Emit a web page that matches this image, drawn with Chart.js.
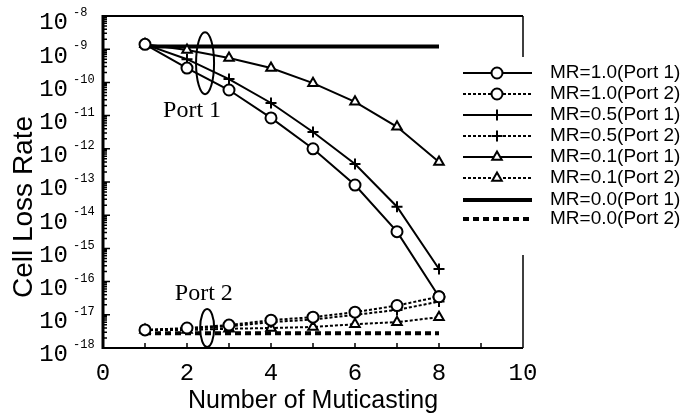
<!DOCTYPE html>
<html>
<head>
<meta charset="utf-8">
<script src="https://cdn.jsdelivr.net/npm/chart.js@4.4.1/dist/chart.umd.min.js"></script>
<style>
  html, body { margin: 0; padding: 0; background: #fff; }
  #lossChart { display: block; }
</style>
</head>
<body>
<canvas id="lossChart" width="691" height="415"></canvas>
<script>
// マルチキャスト数ごとのセル損失率
var multicastCounts = [1, 2, 3, 4, 5, 6, 7, 8];

var mr10Port1 = [1.4e-9, 2.7e-10, 5.9e-11, 8.5e-12, 1.0e-12, 8.1e-14, 3.2e-15, 3.5e-17];
var mr10Port2 = [3.5e-18, 4.0e-18, 4.9e-18, 6.9e-18, 8.5e-18, 1.2e-17, 1.9e-17, 3.5e-17];
var mr05Port1 = [1.4e-9, 5.0e-10, 1.26e-10, 2.4e-11, 3.2e-12, 3.5e-13, 1.8e-14, 2.4e-16];
var mr05Port2 = [3.5e-18, 3.8e-18, 4.5e-18, 6.0e-18, 7.2e-18, 1.0e-17, 1.4e-17, 2.5e-17];
var mr01Port1 = [1.4e-9, 9.5e-10, 5.4e-10, 2.7e-10, 9.5e-11, 2.6e-11, 4.6e-12, 4.0e-13];
var mr01Port2 = [3.5e-18, 3.5e-18, 3.8e-18, 4.0e-18, 4.3e-18, 5.2e-18, 6.0e-18, 8.5e-18];
var mr00Port1 = [1.2e-9, 1.2e-9, 1.2e-9, 1.2e-9, 1.2e-9, 1.2e-9, 1.2e-9, 1.2e-9];
var mr00Port2 = [2.8e-18, 2.8e-18, 2.8e-18, 2.8e-18, 2.8e-18, 2.8e-18, 2.8e-18, 2.8e-18];

var seriesLabels = [
    'MR=1.0(Port 1)', 'MR=1.0(Port 2)',
    'MR=0.5(Port 1)', 'MR=0.5(Port 2)',
    'MR=0.1(Port 1)', 'MR=0.1(Port 2)',
    'MR=0.0(Port 1)', 'MR=0.0(Port 2)'
];

var xTickValues = [0, 2, 4, 6, 8, 10];
var yExponents = [-8, -9, -10, -11, -12, -13, -14, -15, -16, -17, -18];

function toPoints(values) {
    return values.map(function (v, i) { return { x: multicastCounts[i], y: v }; });
}

function makeSeries(label, values, marker, dash, width) {
    return {
        label: label,
        data: toPoints(values),
        borderColor: '#000',
        backgroundColor: '#fff',
        borderWidth: width,
        borderDash: dash,
        pointStyle: marker || 'circle',
        pointRadius: marker ? 5.5 : 0,
        pointBorderWidth: 2,
        pointBorderColor: '#000',
        pointBackgroundColor: '#fff',
        tension: 0,
        fill: false
    };
}

var solid = [];
var dotted = [3, 2];

// 凡例の行位置
var legendRows = [73, 94, 115, 136, 157, 178, 200, 219];

var paperPlugin = {
    id: 'paperFrame',
    afterDatasetsDraw: function (chart) {
        var ctx = chart.ctx;
        var a = chart.chartArea;
        var xs = chart.scales.x;
        var ys = chart.scales.y;
        ctx.save();
        ctx.strokeStyle = '#000';
        ctx.fillStyle = '#000';
        ctx.setLineDash([]);

        // 枠線
        ctx.lineWidth = 3;
        ctx.beginPath();
        ctx.moveTo(a.left, a.top - 1);
        ctx.lineTo(a.left, a.bottom + 1);
        ctx.stroke();
        ctx.lineWidth = 2;
        ctx.beginPath();
        ctx.moveTo(a.left, a.bottom);
        ctx.lineTo(a.right, a.bottom);
        ctx.moveTo(a.left, a.top);
        ctx.lineTo(a.right, a.top);
        ctx.stroke();
        ctx.lineWidth = 1.5;
        ctx.beginPath();
        ctx.moveTo(a.right, a.top);
        ctx.lineTo(a.right, 57);
        ctx.moveTo(a.right, 255);
        ctx.lineTo(a.right, a.bottom);
        ctx.stroke();

        // y軸の目盛り（対数）
        ctx.lineWidth = 1.5;
        ctx.beginPath();
        for (var e = -18; e <= -8; e++) {
            for (var m = 1; m <= 9; m++) {
                if (e === -8 && m > 1) break;
                var py = ys.getPixelForValue(m * Math.pow(10, e));
                var len = m === 1 ? 7 : 4;
                ctx.moveTo(a.left, py);
                ctx.lineTo(a.left + len, py);
            }
        }
        ctx.stroke();

        // x軸の目盛り
        ctx.beginPath();
        for (var i = 1; i < 10; i++) {
            var px = xs.getPixelForValue(i);
            ctx.moveTo(px, a.bottom);
            ctx.lineTo(px, a.bottom - 5);
        }
        ctx.stroke();

        // y軸ラベル 10^n
        yExponents.forEach(function (n) {
            var py = ys.getPixelForValue(Math.pow(10, n));
            ctx.font = '24px "Liberation Mono"';
            ctx.textAlign = 'right';
            ctx.textBaseline = 'middle';
            ctx.fillText('10', 68, py + 7);
            ctx.font = '12px "Liberation Mono"';
            ctx.textAlign = 'left';
            ctx.fillText(String(n), 73, py - 3);
        });

        // x軸ラベル
        ctx.font = '24px "Liberation Mono"';
        ctx.textAlign = 'center';
        ctx.textBaseline = 'middle';
        xTickValues.forEach(function (v) {
            ctx.fillText(String(v), xs.getPixelForValue(v), 374);
        });

        // 軸タイトル
        ctx.font = '25px "Liberation Sans"';
        ctx.fillText('Number of Muticasting', (a.left + a.right) / 2, 401);
        ctx.save();
        ctx.translate(24, 207);
        ctx.rotate(-Math.PI / 2);
        ctx.font = '28px "Liberation Sans"';
        ctx.fillText('Cell Loss Rate', 0, 0);
        ctx.restore();

        // ポートの注記
        ctx.lineWidth = 2;
        ctx.beginPath();
        ctx.ellipse(xs.getPixelForValue(2.43), ys.getPixelForValue(3.8e-10), 9, 31, 0, 0, Math.PI * 2);
        ctx.stroke();
        ctx.beginPath();
        ctx.ellipse(xs.getPixelForValue(2.48), ys.getPixelForValue(4e-18), 7, 19, 0, 0, Math.PI * 2);
        ctx.stroke();
        ctx.font = '24px "Liberation Serif"';
        ctx.textAlign = 'left';
        ctx.textBaseline = 'alphabetic';
        ctx.fillText('Port 1', xs.getPixelForValue(1.43), ys.getPixelForValue(9e-12));
        ctx.fillText('Port 2', xs.getPixelForValue(1.71), ys.getPixelForValue(2.8e-17));

        // 凡例
        chart.data.datasets.forEach(function (ds, k) {
            var ry = legendRows[k];
            ctx.strokeStyle = '#000';
            ctx.lineWidth = ds.borderWidth;
            ctx.setLineDash(ds.borderDash);
            ctx.beginPath();
            ctx.moveTo(463, ry);
            ctx.lineTo(532, ry);
            ctx.stroke();
            ctx.setLineDash([]);
            if (ds.pointRadius > 0) {
                ctx.fillStyle = '#fff';
                ctx.lineWidth = 2;
                Chart.helpers.drawPoint(ctx, {
                    pointStyle: ds.pointStyle,
                    radius: ds.pointRadius,
                    borderWidth: 2,
                    rotation: 0
                }, 497, ry);
            }
            ctx.fillStyle = '#000';
            ctx.font = '19px "Liberation Sans"';
            ctx.textAlign = 'left';
            ctx.textBaseline = 'middle';
            ctx.fillText(ds.label, 550, ry);
        });
        ctx.restore();
    }
};

var ctx = document.getElementById('lossChart').getContext('2d');
var lossChart = new Chart(ctx, {
    type: 'line',
    data: {
        datasets: [
            makeSeries(seriesLabels[0], mr10Port1, 'circle', solid, 2),
            makeSeries(seriesLabels[1], mr10Port2, 'circle', dotted, 2),
            makeSeries(seriesLabels[2], mr05Port1, 'cross', solid, 2),
            makeSeries(seriesLabels[3], mr05Port2, 'cross', dotted, 2),
            makeSeries(seriesLabels[4], mr01Port1, 'triangle', solid, 2),
            makeSeries(seriesLabels[5], mr01Port2, 'triangle', dotted, 2),
            makeSeries(seriesLabels[6], mr00Port1, null, solid, 4),
            makeSeries(seriesLabels[7], mr00Port2, null, [6, 4], 4)
        ]
    },
    options: {
        responsive: false,
        animation: false,
        devicePixelRatio: 1,
        layout: {
            autoPadding: false,
            padding: { left: 103, right: 168, top: 16, bottom: 67 }
        },
        scales: {
            x: {
                type: 'linear',
                min: 0,
                max: 10,
                grid: { display: false },
                border: { display: false },
                ticks: { display: false },
                afterFit: function (scale) { scale.height = 0; }
            },
            y: {
                type: 'logarithmic',
                min: 1e-18,
                max: 1e-8,
                grid: { display: false },
                border: { display: false },
                ticks: { display: false },
                afterFit: function (scale) { scale.width = 0; }
            }
        },
        plugins: {
            legend: { display: false },
            tooltip: { enabled: false }
        }
    },
    plugins: [paperPlugin]
});
</script>
</body>
</html>
